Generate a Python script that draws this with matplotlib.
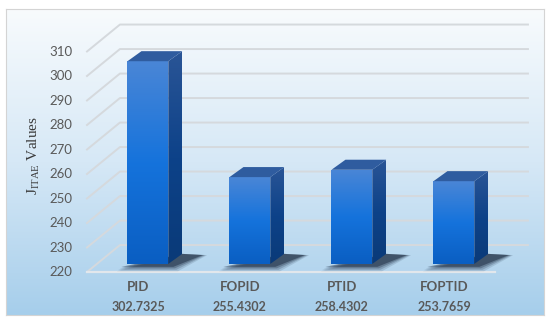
import matplotlib.pyplot as plt
import numpy as np
from matplotlib.patches import Polygon, Rectangle
from matplotlib.colors import LinearSegmentedColormap

# data
methods = ['PID', 'FOPID', 'PTID', 'FOPTID']
values = [302.7325, 255.4302, 258.4302, 253.7659]
value_labels = ['302.7325', '255.4302', '258.4302', '253.7659']
yticks = [220, 230, 240, 250, 260, 270, 280, 290, 300, 310]

# fake 3d geometry (data units)
DX, DY = 0.323, 11.0        # back wall offset
HW = 0.2                    # half width of bar
FD = 0.3                    # depth of bar front face
BDX, BDY = 0.137, 4.1       # bar depth
base = yticks[0]

fig = plt.figure(figsize=(5.5, 3.25), dpi=100)

# background panel with gradient
bg = fig.add_axes([6/550, 10/325, 538/550, 306/325])
grad = np.linspace(0, 1, 256).reshape(-1, 1)
bg.imshow(grad, aspect='auto', origin='upper', extent=[0, 1, 0, 1],
          cmap=LinearSegmentedColormap.from_list('bg', ['#f8fbfd', '#d6e8f6', '#a6ceeb']))
bg.set_xticks([])
bg.set_yticks([])
for s in bg.spines.values():
    s.set_color('#d4d4d4')

ax = fig.add_axes([0, 0, 1, 1])
ax.patch.set_alpha(0)
ax.set_xlim(-138/102, 412/102)
ax.set_ylim(base - 53/2.45, base + 272/2.45)
ax.set_axis_off()

x0, x1 = -0.5, len(methods) - 0.5

# gridlines
for v in yticks:
    ax.plot([x0, x0 + DX, x1 + DX], [v, v + DY, v + DY], color='#d5d9dd', lw=1.4, zorder=1)
    ax.text(x0 - 0.14, v, str(v), ha='right', va='center', fontsize=9.5,
            family='Lato', color='#595959')
ax.plot([x0, x1], [base, base], color='#e2e7ec', lw=1.6, zorder=1)

front_cmap = LinearSegmentedColormap.from_list('front', ['#4a86d6', '#1573dc', '#0a5ec2'])
side_cmap = LinearSegmentedColormap.from_list('side', ['#2a5596', '#0d4289', '#0a3a78'])

for i, v in enumerate(values):
    xl = i - HW + FD * DX
    xr = i + HW + FD * DX
    yb = base + FD * DY
    yt = v + FD * DY

    # shadow on floor
    for k, a in enumerate([0.12, 0.18, 0.25, 0.4]):
        e = (3 - k) * 0.015
        sh = Polygon([(xl - 0.06 - e, yb - 1.2 - e * 40), (xr + 0.05 + e, yb - 1.2 - e * 40),
                      (xr + BDX + 0.2 + e, yb + BDY - 0.5), (xr + BDX, yb + BDY)],
                     closed=True, facecolor='#08152b', edgecolor='none', alpha=a, zorder=2)
        ax.add_patch(sh)

    # front face
    face = Rectangle((xl, yb), xr - xl, yt - yb, facecolor='none', edgecolor='none', zorder=3)
    ax.add_patch(face)
    im = ax.imshow(grad, aspect='auto', origin='upper', extent=[xl, xr, yb, yt],
                   cmap=front_cmap, zorder=3)
    im.set_clip_path(face)

    # side face
    side = Polygon([(xr, yb), (xr, yt), (xr + BDX, yt + BDY), (xr + BDX, yb + BDY)],
                   closed=True, facecolor='none', edgecolor='none', zorder=3)
    ax.add_patch(side)
    im2 = ax.imshow(grad, aspect='auto', origin='upper', extent=[xr, xr + BDX, yb, yt + BDY],
                    cmap=side_cmap, zorder=3)
    im2.set_clip_path(side)

    # top face
    top = Polygon([(xl, yt), (xr, yt), (xr + BDX, yt + BDY), (xl + BDX, yt + BDY)],
                  closed=True, facecolor='#2f5c9f', edgecolor='none', zorder=4)
    ax.add_patch(top)

    # category labels
    ax.annotate(methods[i], (i, base), xytext=(0, -10.5), textcoords='offset points',
                ha='center', va='center', fontsize=9.5, fontweight='bold',
                family='Lato', color='#595959')
    ax.annotate(value_labels[i], (i, base), xytext=(0, -25), textcoords='offset points',
                ha='center', va='center', fontsize=9, fontweight='bold',
                family='Lato', color='#595959')

plt.rcParams['mathtext.fontset'] = 'stix'
ax.text(-1.02, 267.5, r'J$_{\mathregular{ITAE}}$ Values', rotation=90, ha='center', va='center',
        fontsize=11, family='Liberation Serif', color='#3a3a3a')

fig.savefig('out.png', dpi=100)
